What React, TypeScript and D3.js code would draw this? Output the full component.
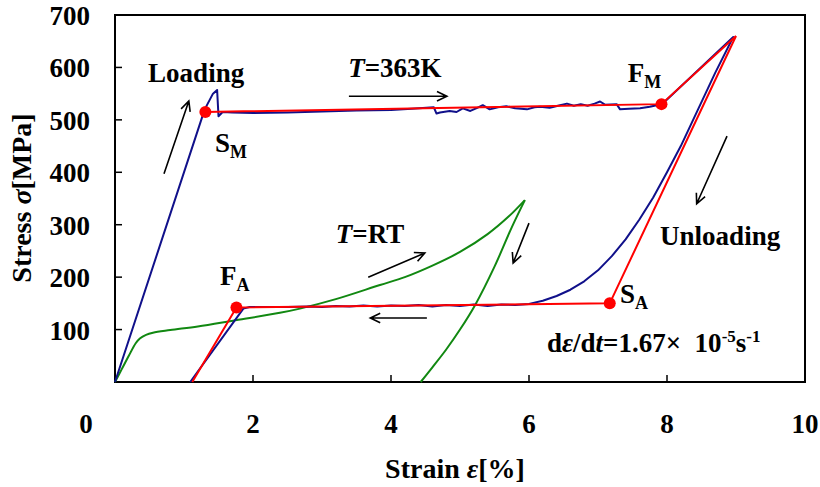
import React from 'react';
import * as d3 from 'd3';

// strain [%], stress [MPa]
const blue363K: [number, number][] = [
  [0, 0], [1.3, 520], [1.42, 550], [1.48, 557], [1.5, 507], [1.56, 515],
  [1.7, 514], [2.0, 513], [2.5, 514], [3.0, 516], [3.5, 518], [4.0, 519],
  [4.3, 521], [4.62, 524], [4.66, 512], [4.71, 514], [4.85, 517], [4.95, 515],
  [5.04, 522], [5.15, 517], [5.25, 523], [5.33, 528], [5.43, 520], [5.55, 524],
  [5.67, 526], [5.8, 522], [5.97, 520], [6.08, 524], [6.16, 525], [6.3, 523],
  [6.45, 528], [6.55, 531], [6.65, 527], [6.75, 530], [6.85, 527], [6.95, 531],
  [7.03, 535], [7.1, 529], [7.27, 530], [7.32, 520], [7.45, 521], [7.61, 522],
  [7.75, 525], [7.85, 528], [7.92, 529],
  [8.96, 658],
  [8.7, 590], [8.45, 520], [8.2, 450], [8.0, 400], [7.8, 352], [7.6, 310],
  [7.4, 272], [7.2, 240], [7.0, 213], [6.8, 192], [6.6, 176], [6.4, 164],
  [6.2, 155], [6.0, 149],
  [5.8, 147], [5.6, 148], [5.4, 145], [5.2, 148], [5.0, 145], [4.8, 147],
  [4.6, 144], [4.4, 147], [4.2, 145], [4.0, 146], [3.8, 144], [3.6, 146],
  [3.4, 144], [3.2, 145], [3.0, 143], [2.8, 144], [2.5, 143], [2.2, 143],
  [1.95, 143], [1.86, 140], [1.09, 0],
];

const greenRTLoad: [number, number][] = [
  [0, 0], [0.1, 25], [0.2, 50], [0.3, 74], [0.36, 83], [0.45, 90], [0.55, 94],
  [0.8, 99], [1.2, 106], [1.71, 117], [2.39, 132], [2.68, 140], [3.2, 158],
  [3.84, 185], [4.2, 200], [4.6, 222], [5.0, 248], [5.4, 282], [5.7, 315],
  [5.94, 347],
];

const greenRTUnload: [number, number][] = [
  [5.94, 347], [5.75, 295], [5.5, 220], [5.22, 147], [5.0, 100], [4.8, 62],
  [4.6, 28], [4.43, 0],
];

const redModel: [number, number][] = [
  [1.12, 0], [1.76, 142], [7.17, 150], [9.0, 660], [7.92, 530], [1.31, 515],
];

const redPoints: [number, number][] = [
  [1.31, 515], [7.92, 530], [7.17, 150], [1.76, 142],
];

const xTicks = [0, 2, 4, 6, 8, 10];
const yTicks = [100, 200, 300, 400, 500, 600, 700];

// annotation arrows in data units: [x0, y0, x1, y1]
const arrows: [number, number, number, number][] = [
  [0.71, 397, 1.07, 536],
  [3.39, 545, 4.81, 545],
  [3.67, 200, 4.49, 246],
  [6.0, 303, 5.77, 227],
  [4.52, 122, 3.7, 122],
  [8.87, 469, 8.43, 340],
];

const width = 820;
const height = 487;
const font = '"Times New Roman", "Liberation Serif", serif';

export default function App() {
  const x = d3.scaleLinear().domain([0, 10]).range([115, 805]);
  const y = d3.scaleLinear().domain([0, 700]).range([382, 15]);

  const line = d3.line<[number, number]>().x(d => x(d[0])).y(d => y(d[1]));
  const smooth = d3.line<[number, number]>()
    .x(d => x(d[0])).y(d => y(d[1]))
    .curve(d3.curveCatmullRom.alpha(0.5));

  const arrowHead = (a: [number, number, number, number]) => {
    const x0 = x(a[0]), y0 = y(a[1]), x1 = x(a[2]), y1 = y(a[3]);
    const ang = Math.atan2(y1 - y0, x1 - x0);
    const len = 11, spread = 0.45;
    const p1 = [x1 - len * Math.cos(ang - spread), y1 - len * Math.sin(ang - spread)];
    const p2 = [x1 - len * Math.cos(ang + spread), y1 - len * Math.sin(ang + spread)];
    return `M${x0},${y0}L${x1},${y1}M${p1[0]},${p1[1]}L${x1},${y1}L${p2[0]},${p2[1]}`;
  };

  const txt = { fontFamily: font, fontWeight: 'bold' as const, fontSize: 27, fill: '#000' };
  const sub = { fontSize: 18 };

  return (
    <svg width={width} height={height} style={{ position: 'absolute', left: 0, top: 0, background: '#fff' }}>
      {/* frame */}
      <rect x={115} y={15} width={690} height={367} fill="none" stroke="#000" strokeWidth={2} />
      {xTicks.slice(1, -1).map(t => (
        <line key={t} x1={x(t)} x2={x(t)} y1={382} y2={375} stroke="#000" strokeWidth={1.5} />
      ))}
      {yTicks.slice(0, -1).map(t => (
        <line key={t} x1={115} x2={122} y1={y(t)} y2={y(t)} stroke="#000" strokeWidth={1.5} />
      ))}
      {xTicks.map(t => (
        <text key={t} x={t === 0 ? x(t) - 29 : x(t)} y={433} textAnchor="middle" {...txt}>{t}</text>
      ))}
      {yTicks.map(t => (
        <text key={t} x={90} y={y(t) + 10} textAnchor="end" {...txt}>{t}</text>
      ))}
      <text x={455} y={478} textAnchor="middle" {...txt} fontSize={28}>
        Strain <tspan fontStyle="italic">ε</tspan>[%]
      </text>
      <text transform="translate(31,198) rotate(-90)" textAnchor="middle" {...txt} fontSize={28}>
        Stress <tspan fontStyle="italic">σ</tspan>[MPa]
      </text>

      {/* curves */}
      <path d={smooth(greenRTLoad) ?? ''} fill="none" stroke="#118811" strokeWidth={2} />
      <path d={smooth(greenRTUnload) ?? ''} fill="none" stroke="#118811" strokeWidth={2} />
      <path d={line(blue363K) ?? ''} fill="none" stroke="#10108a" strokeWidth={2} strokeLinejoin="round" />
      <path d={line(redModel) ?? ''} fill="none" stroke="#ff0000" strokeWidth={2} />
      {redPoints.map((p, i) => (
        <circle key={i} cx={x(p[0])} cy={y(p[1])} r={6} fill="#ff0000" />
      ))}

      {/* arrows */}
      {arrows.map((a, i) => (
        <path key={i} d={arrowHead(a)} fill="none" stroke="#000" strokeWidth={1.6} />
      ))}

      {/* labels */}
      <text x={x(0.48)} y={y(572)} {...txt}>Loading</text>
      <text x={x(7.9)} y={y(261)} {...txt}>Unloading</text>
      <text x={x(3.38)} y={y(582)} {...txt}><tspan fontStyle="italic">T</tspan>=363K</text>
      <text x={x(3.2)} y={y(265)} {...txt}><tspan fontStyle="italic">T</tspan>=RT</text>
      <text x={x(7.43)} y={y(572)} {...txt}>F<tspan {...sub} dy={6}>M</tspan></text>
      <text x={x(1.45)} y={y(439)} {...txt}>S<tspan {...sub} dy={6}>M</tspan></text>
      <text x={x(1.52)} y={y(185)} {...txt}>F<tspan {...sub} dy={6}>A</tspan></text>
      <text x={x(7.32)} y={y(151)} {...txt}>S<tspan {...sub} dy={6}>A</tspan></text>
      <text x={x(6.26)} y={y(57)} {...txt} style={{ whiteSpace: 'pre' }}>
        d<tspan fontStyle="italic">ε</tspan>/d<tspan fontStyle="italic">t</tspan>{'=1.67×  10'}
        <tspan fontSize={17} dy={-10}>-5</tspan><tspan dy={10}>s</tspan>
        <tspan fontSize={17} dy={-10}>-1</tspan>
      </text>
    </svg>
  );
}
